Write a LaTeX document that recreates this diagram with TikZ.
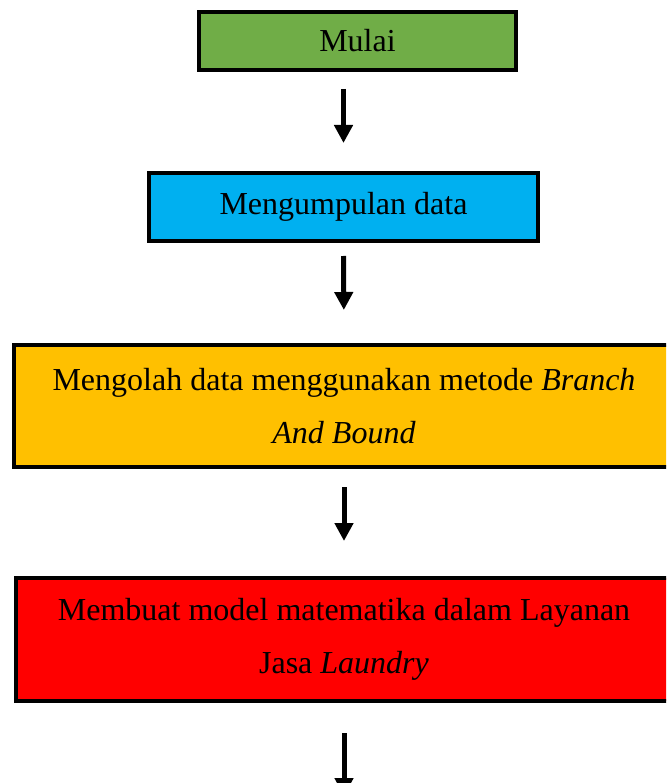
\documentclass[tikz,border=0pt]{standalone}
\usepackage{fontspec}
\setmainfont{Liberation Serif}
\usetikzlibrary{arrows.meta,positioning}
\definecolor{hijau}{HTML}{70AD47}
\definecolor{biru}{HTML}{00B0F0}
\definecolor{jingga}{HTML}{FFC000}
\definecolor{merah}{HTML}{FF0000}
\begin{document}
\begin{tikzpicture}[
  x=1pt, y=-1pt,
  every node/.style = {shape=rectangle, draw, line width=4pt, inner sep=0pt, align=center,
                       font=\fontsize{32}{53}\selectfont},
  panah/.style = {line width=5pt, -{Triangle[width=18pt,length=18pt]}}
]
  \useasboundingbox (0,0) rectangle (666,783);
  \clip (0,0) rectangle (666,783);
  \node[fill=hijau, minimum width=317pt, minimum height=58pt] (mulai) at (357.5,41) {Mulai};
  \node[fill=biru, minimum width=389pt, minimum height=68pt] (kumpul) at (343.5,207) {Mengumpulan data};
  \node[fill=jingga, minimum width=660pt, minimum height=122pt] (olah) at (344,406)
    {Mengolah data menggunakan metode \textit{Branch}\\ \textit{And Bound}};
  \node[fill=merah, minimum width=656pt, minimum height=123pt] (model) at (344,639.5)
    {Membuat model matematika dalam Layanan\\ Jasa \textit{Laundry}};
  \coordinate (akhir) at (344,796);
  % panah antar langkah
  \draw[panah, shorten <=17pt, shorten >=28pt] (kumpul.north |- mulai.south) -- (kumpul.north);
  \draw[panah, shorten <=13pt, shorten >=33pt] (kumpul.south) -- (olah.north);
  \draw[panah, shorten <=18pt, shorten >=35pt] (olah.south) -- (model.north);
  \draw[panah, shorten <=30pt] (model.south) -- (akhir);
\end{tikzpicture}
\end{document}
